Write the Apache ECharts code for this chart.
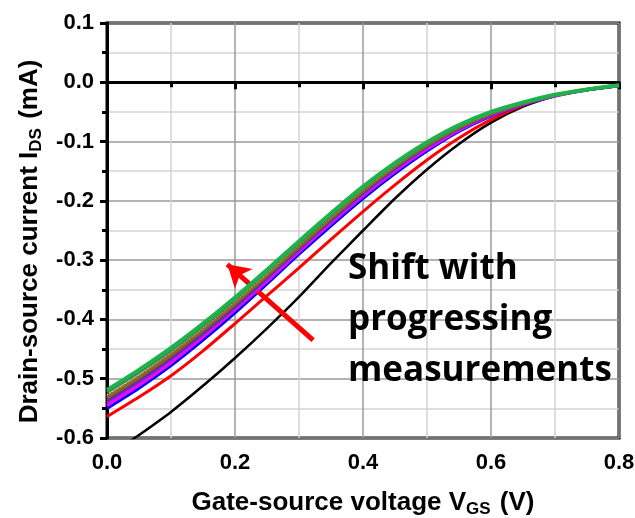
<!DOCTYPE html>
<html>
<head>
<meta charset="utf-8">
<script src="https://cdn.jsdelivr.net/npm/echarts@6/dist/echarts.min.js"></script>
<style>
  html, body { margin: 0; padding: 0; background: #fff; }
  #chart { width: 635px; height: 518px; }
</style>
</head>
<body>
<div id="chart"></div>
<script>
// Gate-source voltage sweep (V)
const vgs = [0, 0.05, 0.1, 0.15, 0.2, 0.25, 0.3, 0.35, 0.4, 0.45, 0.5, 0.55, 0.6, 0.65, 0.7, 0.75, 0.8];

// Drain-source current (mA), one array per measurement, first to last
const run1  = [-0.632, -0.595, -0.556, -0.512, -0.465, -0.415, -0.362, -0.305, -0.250, -0.196, -0.147, -0.104, -0.068, -0.041, -0.023, -0.012, -0.006];
const run2  = [-0.564, -0.531, -0.495, -0.453, -0.407, -0.360, -0.313, -0.265, -0.218, -0.173, -0.131, -0.094, -0.063, -0.039, -0.022, -0.012, -0.006];
const run3  = [-0.550, -0.516, -0.478, -0.435, -0.389, -0.340, -0.290, -0.242, -0.196, -0.154, -0.116, -0.083, -0.057, -0.038, -0.023, -0.013, -0.006];
const run4  = [-0.545, -0.511, -0.473, -0.430, -0.384, -0.336, -0.286, -0.238, -0.192, -0.150, -0.113, -0.081, -0.056, -0.037, -0.023, -0.013, -0.006];
const run5  = [-0.540, -0.506, -0.468, -0.426, -0.381, -0.332, -0.283, -0.235, -0.189, -0.147, -0.110, -0.079, -0.055, -0.037, -0.022, -0.013, -0.006];
const run6  = [-0.537, -0.503, -0.465, -0.423, -0.378, -0.329, -0.280, -0.232, -0.186, -0.145, -0.108, -0.078, -0.054, -0.036, -0.022, -0.013, -0.006];
const run7  = [-0.533, -0.499, -0.461, -0.419, -0.374, -0.326, -0.278, -0.230, -0.184, -0.143, -0.107, -0.077, -0.053, -0.036, -0.022, -0.012, -0.005];
const run8  = [-0.530, -0.496, -0.458, -0.416, -0.372, -0.324, -0.275, -0.228, -0.182, -0.141, -0.105, -0.076, -0.053, -0.036, -0.022, -0.012, -0.005];
const run9  = [-0.527, -0.493, -0.455, -0.414, -0.369, -0.322, -0.273, -0.226, -0.180, -0.140, -0.104, -0.075, -0.052, -0.035, -0.022, -0.012, -0.005];
const run10 = [-0.523, -0.489, -0.452, -0.411, -0.366, -0.319, -0.271, -0.224, -0.178, -0.138, -0.103, -0.074, -0.051, -0.035, -0.021, -0.012, -0.005];
const run11 = [-0.519, -0.485, -0.448, -0.407, -0.363, -0.316, -0.268, -0.221, -0.176, -0.136, -0.101, -0.072, -0.050, -0.034, -0.021, -0.012, -0.005];

const runs   = [run1, run2, run3, run4, run5, run6, run7, run8, run9, run10, run11];
const colors = ['#000000', '#ff0000', '#0000ff', '#ff00ff', '#8a2be2', '#7a1fa0', '#6b6b2a', '#9a6324', '#d8c89a', '#2e8b57', '#1db34a'];
const widths = [2.5, 3, 3, 3, 3, 3, 3, 3, 1.5, 3, 4];

// Axis ticks
const xTicks = { min: 0, max: 0.8, step: 0.2 };
const yTicks = { min: -0.6, max: 0.1, step: 0.1 };

// Arrow marking the drift direction: [VGS, IDS] tail and head
const arrowTail = [0.322, -0.435];
const arrowHead = [0.188, -0.307];

const annotation = ['Shift with', 'progressing', 'measurements'];

const chart = echarts.init(document.getElementById('chart'));

const FONT = '"Liberation Sans", Arial, sans-serif';

const series = runs.map((vals, i) => ({
  type: 'line',
  data: vals.map((v, j) => [vgs[j], v]),
  smooth: 0.25,
  showSymbol: false,
  clip: true,
  z: 2 + i,
  lineStyle: { color: colors[i], width: widths[i], type: i === 8 ? 'dotted' : 'solid' },
  animation: false
}));

series.push({
  type: 'line',
  data: [],
  z: 30,
  markLine: {
    silent: true,
    animation: false,
    symbol: ['none', 'arrow'],
    symbolSize: [20, 22],
    label: { show: false },
    lineStyle: { color: '#ff0000', width: 5, type: 'solid' },
    data: [[{ coord: arrowTail }, { coord: arrowHead }]]
  }
});

const titleRich = {
  t: { fontFamily: FONT, fontWeight: 'bold', fontSize: 26, color: '#000' },
  s: { fontFamily: FONT, fontWeight: 'bold', fontSize: 17, color: '#000', padding: [14, 2, 0, 0] }
};

const axisCommon = {
  axisLine: { show: true, lineStyle: { color: '#000', width: 3 } },
  axisTick: { show: true, length: 7, lineStyle: { color: '#000', width: 3 } },
  minorTick: { show: true, splitNumber: 2, length: 5, lineStyle: { color: '#000', width: 3 } },
  splitLine: { show: true, lineStyle: { color: '#9a9a9a', width: 1.5 } },
  minorSplitLine: { show: true, lineStyle: { color: '#d4d4d4', width: 1.5 } }
};

chart.setOption({
  animation: false,
  backgroundColor: '#ffffff',
  grid: {
    left: 107, right: 16, top: 23, bottom: 80,
    containLabel: false,
    outerBoundsMode: 'none',
    show: true, borderColor: '#000', borderWidth: 3, backgroundColor: 'transparent'
  },
  xAxis: Object.assign({
    type: 'value',
    min: xTicks.min, max: xTicks.max, interval: xTicks.step,
    name: '{t|Gate-source voltage V}{s|GS}{t| (V)}',
    nameLocation: 'middle', nameGap: 49,
    nameTextStyle: { rich: titleRich },
    axisLabel: {
      margin: 14, fontFamily: FONT, fontWeight: 'bold', fontSize: 22, color: '#000',
      formatter: v => v.toFixed(1)
    }
  }, axisCommon),
  yAxis: Object.assign({
    type: 'value',
    min: yTicks.min, max: yTicks.max, interval: yTicks.step,
    name: '{t|Drain-source current I}{s|DS}{t| (mA)}',
    nameLocation: 'middle', nameGap: 61, nameRotate: 90,
    nameTextStyle: { rich: titleRich, padding: [0, 22, 0, 0] },
    axisLabel: {
      margin: 13, fontFamily: FONT, fontWeight: 'bold', fontSize: 22, color: '#000',
      formatter: v => v.toFixed(1)
    }
  }, axisCommon),
  graphic: [{
    type: 'text',
    left: 348, top: 244, z: 40,
    style: {
      text: annotation.join('\n'),
      fill: '#000',
      font: 'bold 35px "Open Sans", Lato, sans-serif',
      lineHeight: 51
    }
  }],
  series: series
});
</script>
</body>
</html>
